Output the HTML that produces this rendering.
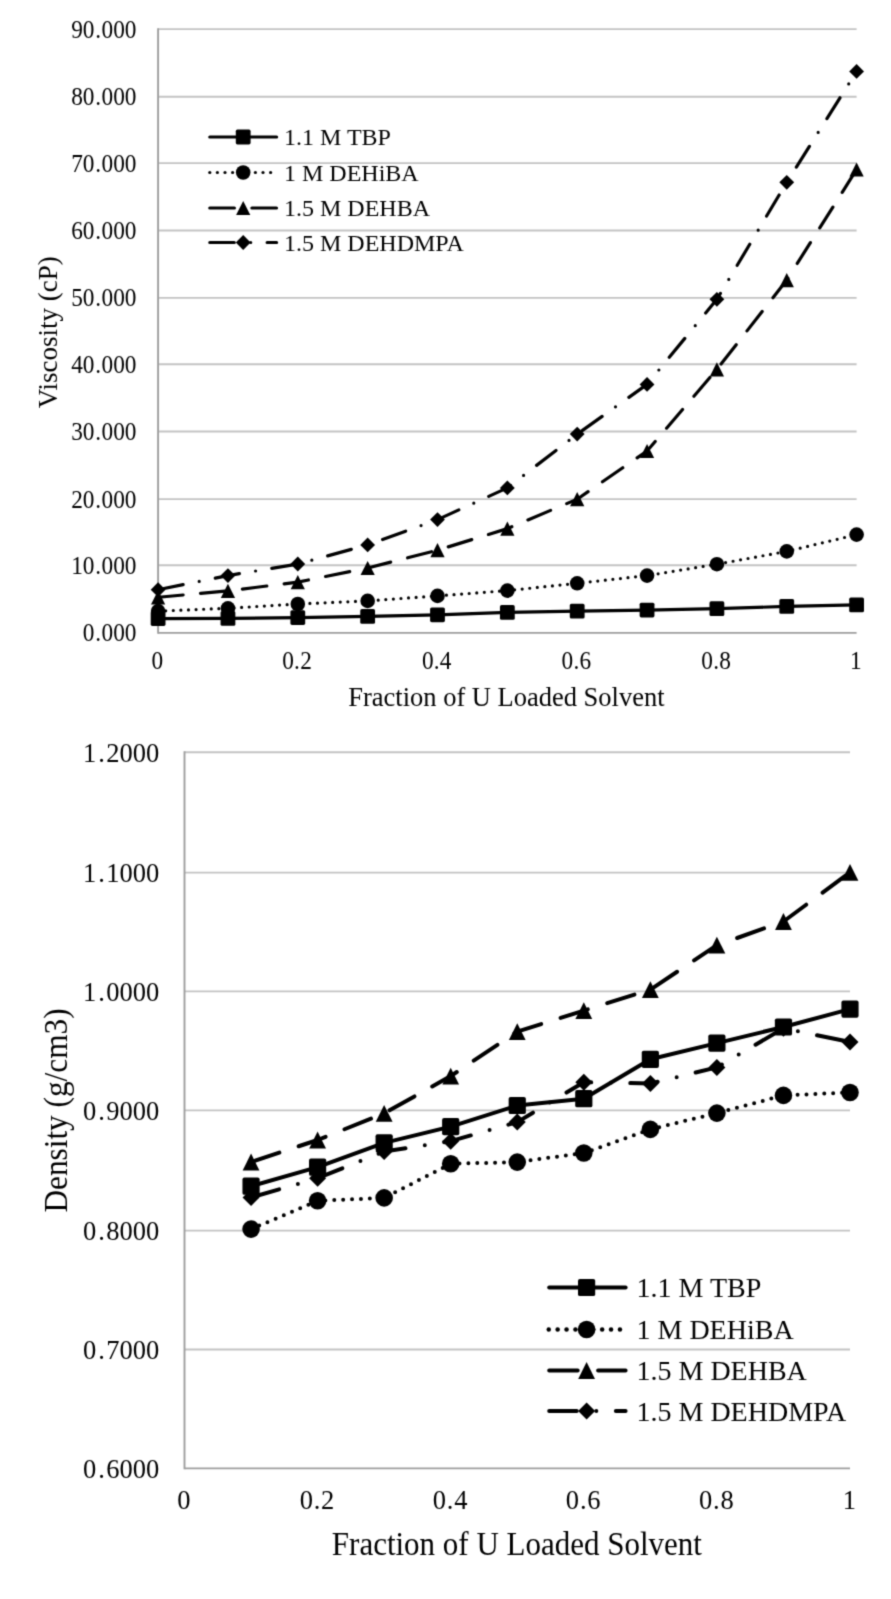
<!DOCTYPE html>
<html><head><meta charset="utf-8"><style>
html,body{margin:0;padding:0;background:#fff;}
svg{display:block;}
text{font-family:"Liberation Serif", serif;fill:#000;}
</style></head><body>
<svg width="891" height="1599" viewBox="0 0 891 1599">
<defs><filter id="bl" x="0" y="0" width="100%" height="100%" filterUnits="userSpaceOnUse" color-interpolation-filters="sRGB"><feConvolveMatrix order="3" kernelMatrix="0.02768 0.11101 0.02768 0.11101 0.44521 0.11101 0.02768 0.11101 0.02768" edgeMode="duplicate" preserveAlpha="true"/></filter></defs>
<rect width="891" height="1599" fill="#fff"/>
<g filter="url(#bl)">
<rect width="891" height="1599" fill="#fff"/>
<line x1="158.10" y1="565.20" x2="856.60" y2="565.20" stroke="#c3c3c3" stroke-width="1.9"/><line x1="158.10" y1="499.10" x2="856.60" y2="499.10" stroke="#c3c3c3" stroke-width="1.9"/><line x1="158.10" y1="431.50" x2="856.60" y2="431.50" stroke="#c3c3c3" stroke-width="1.9"/><line x1="158.10" y1="364.20" x2="856.60" y2="364.20" stroke="#c3c3c3" stroke-width="1.9"/><line x1="158.10" y1="297.90" x2="856.60" y2="297.90" stroke="#c3c3c3" stroke-width="1.9"/><line x1="158.10" y1="230.50" x2="856.60" y2="230.50" stroke="#c3c3c3" stroke-width="1.9"/><line x1="158.10" y1="163.10" x2="856.60" y2="163.10" stroke="#c3c3c3" stroke-width="1.9"/><line x1="158.10" y1="96.70" x2="856.60" y2="96.70" stroke="#c3c3c3" stroke-width="1.9"/><line x1="158.10" y1="29.10" x2="856.60" y2="29.10" stroke="#c3c3c3" stroke-width="1.9"/><line x1="158.10" y1="632.85" x2="856.60" y2="632.85" stroke="#9e9e9e" stroke-width="1.9"/><line x1="158.10" y1="28.20" x2="158.10" y2="633.75" stroke="#9e9e9e" stroke-width="1.9"/>
<text transform="translate(136.50 641.25) scale(1 1.05)" font-size="23.3" text-anchor="end">0<tspan dx="0.9">.</tspan><tspan dx="0.4">000</tspan></text><text transform="translate(136.50 573.60) scale(1 1.05)" font-size="23.3" text-anchor="end">10<tspan dx="0.9">.</tspan><tspan dx="0.4">000</tspan></text><text transform="translate(136.50 507.50) scale(1 1.05)" font-size="23.3" text-anchor="end">20<tspan dx="0.9">.</tspan><tspan dx="0.4">000</tspan></text><text transform="translate(136.50 439.90) scale(1 1.05)" font-size="23.3" text-anchor="end">30<tspan dx="0.9">.</tspan><tspan dx="0.4">000</tspan></text><text transform="translate(136.50 372.60) scale(1 1.05)" font-size="23.3" text-anchor="end">40<tspan dx="0.9">.</tspan><tspan dx="0.4">000</tspan></text><text transform="translate(136.50 306.30) scale(1 1.05)" font-size="23.3" text-anchor="end">50<tspan dx="0.9">.</tspan><tspan dx="0.4">000</tspan></text><text transform="translate(136.50 238.90) scale(1 1.05)" font-size="23.3" text-anchor="end">60<tspan dx="0.9">.</tspan><tspan dx="0.4">000</tspan></text><text transform="translate(136.50 171.50) scale(1 1.05)" font-size="23.3" text-anchor="end">70<tspan dx="0.9">.</tspan><tspan dx="0.4">000</tspan></text><text transform="translate(136.50 105.10) scale(1 1.05)" font-size="23.3" text-anchor="end">80<tspan dx="0.9">.</tspan><tspan dx="0.4">000</tspan></text><text transform="translate(136.50 37.50) scale(1 1.05)" font-size="23.3" text-anchor="end">90<tspan dx="0.9">.</tspan><tspan dx="0.4">000</tspan></text><text transform="translate(157.30 668.80) scale(1 1.05)" font-size="23.3" text-anchor="middle">0</text><text transform="translate(297.00 668.80) scale(1 1.05)" font-size="23.3" text-anchor="middle">0<tspan dx="0.25">.</tspan><tspan dx="0.25">2</tspan></text><text transform="translate(436.70 668.80) scale(1 1.05)" font-size="23.3" text-anchor="middle">0<tspan dx="0.25">.</tspan><tspan dx="0.25">4</tspan></text><text transform="translate(576.40 668.80) scale(1 1.05)" font-size="23.3" text-anchor="middle">0<tspan dx="0.25">.</tspan><tspan dx="0.25">6</tspan></text><text transform="translate(716.10 668.80) scale(1 1.05)" font-size="23.3" text-anchor="middle">0<tspan dx="0.25">.</tspan><tspan dx="0.25">8</tspan></text><text transform="translate(855.80 668.80) scale(1 1.05)" font-size="23.3" text-anchor="middle">1</text><text transform="translate(506.40 706.00) scale(1 1.04)" font-size="26.5" text-anchor="middle" >Fraction of U Loaded Solvent</text><text transform="translate(57.0 332.3) rotate(-90) scale(1 1.05)" x="0" y="0" font-size="27" text-anchor="middle">Viscosity (cP)</text>
<path d="M158.10 618.60 L227.95 618.40 L297.80 617.60 L367.65 616.40 L437.50 614.80 L507.35 612.40 L577.20 611.20 L647.05 610.05 L716.90 608.70 L786.75 606.40 L856.60 604.90" fill="none" stroke="#000" stroke-width="3.2" stroke-linecap="round" stroke-linejoin="round"  /><g fill="#000"><rect x="150.70" y="611.20" width="14.80" height="14.80" rx="1.63"/><rect x="220.55" y="611.00" width="14.80" height="14.80" rx="1.63"/><rect x="290.40" y="610.20" width="14.80" height="14.80" rx="1.63"/><rect x="360.25" y="609.00" width="14.80" height="14.80" rx="1.63"/><rect x="430.10" y="607.40" width="14.80" height="14.80" rx="1.63"/><rect x="499.95" y="605.00" width="14.80" height="14.80" rx="1.63"/><rect x="569.80" y="603.80" width="14.80" height="14.80" rx="1.63"/><rect x="639.65" y="602.65" width="14.80" height="14.80" rx="1.63"/><rect x="709.50" y="601.30" width="14.80" height="14.80" rx="1.63"/><rect x="779.35" y="599.00" width="14.80" height="14.80" rx="1.63"/><rect x="849.20" y="597.50" width="14.80" height="14.80" rx="1.63"/></g>
<path d="M158.10 611.10 L227.95 608.30 L297.80 604.00 L367.65 600.90 L437.50 595.90 L507.35 590.60 L577.20 583.30 L647.05 575.60 L716.90 564.20 L786.75 551.40 L856.60 534.60" fill="none" stroke="#000" stroke-width="3.2" stroke-linecap="round" stroke-linejoin="round" stroke-dasharray="0 7.6" stroke-dashoffset="0.00"/><g fill="#000"><circle cx="158.10" cy="611.10" r="7.30"/><circle cx="227.95" cy="608.30" r="7.30"/><circle cx="297.80" cy="604.00" r="7.30"/><circle cx="367.65" cy="600.90" r="7.30"/><circle cx="437.50" cy="595.90" r="7.30"/><circle cx="507.35" cy="590.60" r="7.30"/><circle cx="577.20" cy="583.30" r="7.30"/><circle cx="647.05" cy="575.60" r="7.30"/><circle cx="716.90" cy="564.20" r="7.30"/><circle cx="786.75" cy="551.40" r="7.30"/><circle cx="856.60" cy="534.60" r="7.30"/></g>
<path d="M158.10 597.30 L227.95 590.90 L297.80 582.10 L367.65 568.00 L437.50 550.20 L507.35 528.60 L577.20 499.20 L647.05 451.00 L716.90 369.30 L786.75 280.10 L856.60 169.50" fill="none" stroke="#000" stroke-width="3.2" stroke-linecap="round" stroke-linejoin="round" stroke-dasharray="24.6 17.49" stroke-dashoffset="41.58"/><g fill="#000"><path d="M158.10 590.20L165.20 604.40L151.00 604.40Z" stroke-linejoin="round"/><path d="M227.95 583.80L235.05 598.00L220.85 598.00Z" stroke-linejoin="round"/><path d="M297.80 575.00L304.90 589.20L290.70 589.20Z" stroke-linejoin="round"/><path d="M367.65 560.90L374.75 575.10L360.55 575.10Z" stroke-linejoin="round"/><path d="M437.50 543.10L444.60 557.30L430.40 557.30Z" stroke-linejoin="round"/><path d="M507.35 521.50L514.45 535.70L500.25 535.70Z" stroke-linejoin="round"/><path d="M577.20 492.10L584.30 506.30L570.10 506.30Z" stroke-linejoin="round"/><path d="M647.05 443.90L654.15 458.10L639.95 458.10Z" stroke-linejoin="round"/><path d="M716.90 362.20L724.00 376.40L709.80 376.40Z" stroke-linejoin="round"/><path d="M786.75 273.00L793.85 287.20L779.65 287.20Z" stroke-linejoin="round"/><path d="M856.60 162.40L863.70 176.60L849.50 176.60Z" stroke-linejoin="round"/></g>
<path d="M158.10 589.70 L227.95 575.60 L297.80 564.00 L367.65 544.90 L437.50 519.60 L507.35 487.90 L577.20 434.10 L647.05 384.40 L716.90 299.30 L786.75 182.30 L856.60 71.40" fill="none" stroke="#000" stroke-width="3.2" stroke-linecap="round" stroke-linejoin="round" stroke-dasharray="24.5 16.42 0 16.42" stroke-dashoffset="56.34"/><g fill="#000"><path d="M158.10 582.30L165.50 589.70L158.10 597.10L150.70 589.70Z"/><path d="M227.95 568.20L235.35 575.60L227.95 583.00L220.55 575.60Z"/><path d="M297.80 556.60L305.20 564.00L297.80 571.40L290.40 564.00Z"/><path d="M367.65 537.50L375.05 544.90L367.65 552.30L360.25 544.90Z"/><path d="M437.50 512.20L444.90 519.60L437.50 527.00L430.10 519.60Z"/><path d="M507.35 480.50L514.75 487.90L507.35 495.30L499.95 487.90Z"/><path d="M577.20 426.70L584.60 434.10L577.20 441.50L569.80 434.10Z"/><path d="M647.05 377.00L654.45 384.40L647.05 391.80L639.65 384.40Z"/><path d="M716.90 291.90L724.30 299.30L716.90 306.70L709.50 299.30Z"/><path d="M786.75 174.90L794.15 182.30L786.75 189.70L779.35 182.30Z"/><path d="M856.60 64.00L864.00 71.40L856.60 78.80L849.20 71.40Z"/></g>
<path d="M209.8 137.0 L276.6 137.0" fill="none" stroke="#000" stroke-width="3.2" stroke-linecap="round" />
<g fill="#000"><rect x="235.80" y="129.60" width="14.80" height="14.80" rx="1.63"/></g>
<text transform="translate(284.00 145.40) scale(1 1.0)" font-size="24" text-anchor="start" >1.1 M TBP</text>
<g fill="#000"><circle cx="209.80" cy="172.5" r="1.6"/><circle cx="217.40" cy="172.5" r="1.6"/><circle cx="225.00" cy="172.5" r="1.6"/><circle cx="232.60" cy="172.5" r="1.6"/><circle cx="240.20" cy="172.5" r="1.6"/><circle cx="247.80" cy="172.5" r="1.6"/><circle cx="255.40" cy="172.5" r="1.6"/><circle cx="263.00" cy="172.5" r="1.6"/><circle cx="270.60" cy="172.5" r="1.6"/></g>
<g fill="#000"><circle cx="243.20" cy="172.50" r="7.30"/></g>
<text transform="translate(284.00 180.90) scale(1 1.0)" font-size="24" text-anchor="start" >1 M DEHiBA</text>
<path d="M209.8 208.0 L276.6 208.0" fill="none" stroke="#000" stroke-width="3.2" stroke-linecap="round" stroke-dasharray="24.6 17.49"/>
<g fill="#000"><path d="M243.20 200.90L250.30 215.10L236.10 215.10Z" stroke-linejoin="round"/></g>
<text transform="translate(284.00 216.40) scale(1 1.0)" font-size="24" text-anchor="start" >1.5 M DEHBA</text>
<path d="M209.8 242.5 L276.6 242.5" fill="none" stroke="#000" stroke-width="3.2" stroke-linecap="round" stroke-dasharray="24.5 16.42 0 16.42"/>
<g fill="#000"><path d="M243.20 235.10L250.60 242.50L243.20 249.90L235.80 242.50Z"/></g>
<text transform="translate(284.00 250.90) scale(1 1.0)" font-size="24" text-anchor="start" >1.5 M DEHDMPA</text>
<line x1="184.50" y1="752.20" x2="850.00" y2="752.20" stroke="#c3c3c3" stroke-width="1.9"/><line x1="184.50" y1="872.60" x2="850.00" y2="872.60" stroke="#c3c3c3" stroke-width="1.9"/><line x1="184.50" y1="991.40" x2="850.00" y2="991.40" stroke="#c3c3c3" stroke-width="1.9"/><line x1="184.50" y1="1110.40" x2="850.00" y2="1110.40" stroke="#c3c3c3" stroke-width="1.9"/><line x1="184.50" y1="1230.60" x2="850.00" y2="1230.60" stroke="#c3c3c3" stroke-width="1.9"/><line x1="184.50" y1="1349.50" x2="850.00" y2="1349.50" stroke="#c3c3c3" stroke-width="1.9"/><line x1="184.50" y1="1468.40" x2="850.00" y2="1468.40" stroke="#9e9e9e" stroke-width="1.9"/><line x1="184.50" y1="751.30" x2="184.50" y2="1469.30" stroke="#9e9e9e" stroke-width="1.9"/>
<text transform="translate(159.20 761.60) scale(1 1.0)" font-size="26.5" text-anchor="end">1<tspan dx="2.0">.</tspan><tspan dx="1.4">2000</tspan></text><text transform="translate(159.20 882.00) scale(1 1.0)" font-size="26.5" text-anchor="end">1<tspan dx="2.0">.</tspan><tspan dx="1.4">1000</tspan></text><text transform="translate(159.20 1000.80) scale(1 1.0)" font-size="26.5" text-anchor="end">1<tspan dx="2.0">.</tspan><tspan dx="1.4">0000</tspan></text><text transform="translate(159.20 1119.80) scale(1 1.0)" font-size="26.5" text-anchor="end">0<tspan dx="2.0">.</tspan><tspan dx="1.4">9000</tspan></text><text transform="translate(159.20 1240.00) scale(1 1.0)" font-size="26.5" text-anchor="end">0<tspan dx="2.0">.</tspan><tspan dx="1.4">8000</tspan></text><text transform="translate(159.20 1358.90) scale(1 1.0)" font-size="26.5" text-anchor="end">0<tspan dx="2.0">.</tspan><tspan dx="1.4">7000</tspan></text><text transform="translate(159.20 1477.80) scale(1 1.0)" font-size="26.5" text-anchor="end">0<tspan dx="2.0">.</tspan><tspan dx="1.4">6000</tspan></text><text transform="translate(183.90 1509.10) scale(1 1.0)" font-size="26.5" text-anchor="middle">0</text><text transform="translate(317.00 1509.10) scale(1 1.0)" font-size="26.5" text-anchor="middle">0<tspan dx="0.8">.</tspan><tspan dx="0.8">2</tspan></text><text transform="translate(450.10 1509.10) scale(1 1.0)" font-size="26.5" text-anchor="middle">0<tspan dx="0.8">.</tspan><tspan dx="0.8">4</tspan></text><text transform="translate(583.20 1509.10) scale(1 1.0)" font-size="26.5" text-anchor="middle">0<tspan dx="0.8">.</tspan><tspan dx="0.8">6</tspan></text><text transform="translate(716.30 1509.10) scale(1 1.0)" font-size="26.5" text-anchor="middle">0<tspan dx="0.8">.</tspan><tspan dx="0.8">8</tspan></text><text transform="translate(849.40 1509.10) scale(1 1.0)" font-size="26.5" text-anchor="middle">1</text><text transform="translate(516.90 1554.50) scale(1 1.06)" font-size="31" text-anchor="middle" >Fraction of U Loaded Solvent</text><text transform="translate(66.8 1110.5) rotate(-90) scale(1 1.05)" x="0" y="0" font-size="31.3" text-anchor="middle">Density (g/cm3)</text>
<path d="M251.05 1186.20 L317.60 1167.20 L384.15 1142.90 L450.70 1126.60 L517.25 1105.50 L583.80 1098.70 L650.35 1059.30 L716.90 1043.10 L783.45 1027.00 L850.00 1009.10" fill="none" stroke="#000" stroke-width="4" stroke-linecap="round" stroke-linejoin="round"  /><g fill="#000"><rect x="242.45" y="1177.60" width="17.20" height="17.20" rx="1.89"/><rect x="309.00" y="1158.60" width="17.20" height="17.20" rx="1.89"/><rect x="375.55" y="1134.30" width="17.20" height="17.20" rx="1.89"/><rect x="442.10" y="1118.00" width="17.20" height="17.20" rx="1.89"/><rect x="508.65" y="1096.90" width="17.20" height="17.20" rx="1.89"/><rect x="575.20" y="1090.10" width="17.20" height="17.20" rx="1.89"/><rect x="641.75" y="1050.70" width="17.20" height="17.20" rx="1.89"/><rect x="708.30" y="1034.50" width="17.20" height="17.20" rx="1.89"/><rect x="774.85" y="1018.40" width="17.20" height="17.20" rx="1.89"/><rect x="841.40" y="1000.50" width="17.20" height="17.20" rx="1.89"/></g>
<path d="M251.05 1229.10 L317.60 1200.80 L384.15 1197.90 L450.70 1163.80 L517.25 1162.10 L583.80 1153.00 L650.35 1129.40 L716.90 1113.10 L783.45 1095.40 L850.00 1092.50" fill="none" stroke="#000" stroke-width="4" stroke-linecap="round" stroke-linejoin="round" stroke-dasharray="0 8.9" stroke-dashoffset="0.00"/><g fill="#000"><circle cx="251.05" cy="1229.10" r="8.80"/><circle cx="317.60" cy="1200.80" r="8.80"/><circle cx="384.15" cy="1197.90" r="8.80"/><circle cx="450.70" cy="1163.80" r="8.80"/><circle cx="517.25" cy="1162.10" r="8.80"/><circle cx="583.80" cy="1153.00" r="8.80"/><circle cx="650.35" cy="1129.40" r="8.80"/><circle cx="716.90" cy="1113.10" r="8.80"/><circle cx="783.45" cy="1095.40" r="8.80"/><circle cx="850.00" cy="1092.50" r="8.80"/></g>
<path d="M251.05 1162.00 L317.60 1140.00 L384.15 1113.40 L450.70 1076.10 L517.25 1031.60 L583.80 1010.60 L650.35 989.60 L716.90 945.20 L783.45 921.50 L850.00 872.40" fill="none" stroke="#000" stroke-width="4" stroke-linecap="round" stroke-linejoin="round" stroke-dasharray="28.5 20.4" stroke-dashoffset="47.64"/><g fill="#000"><path d="M251.05 1153.60L259.45 1170.40L242.65 1170.40Z" stroke-linejoin="round"/><path d="M317.60 1131.60L326.00 1148.40L309.20 1148.40Z" stroke-linejoin="round"/><path d="M384.15 1105.00L392.55 1121.80L375.75 1121.80Z" stroke-linejoin="round"/><path d="M450.70 1067.70L459.10 1084.50L442.30 1084.50Z" stroke-linejoin="round"/><path d="M517.25 1023.20L525.65 1040.00L508.85 1040.00Z" stroke-linejoin="round"/><path d="M583.80 1002.20L592.20 1019.00L575.40 1019.00Z" stroke-linejoin="round"/><path d="M650.35 981.20L658.75 998.00L641.95 998.00Z" stroke-linejoin="round"/><path d="M716.90 936.80L725.30 953.60L708.50 953.60Z" stroke-linejoin="round"/><path d="M783.45 913.10L791.85 929.90L775.05 929.90Z" stroke-linejoin="round"/><path d="M850.00 864.00L858.40 880.80L841.60 880.80Z" stroke-linejoin="round"/></g>
<path d="M251.05 1197.50 L317.60 1178.20 L384.15 1151.50 L450.70 1141.20 L517.25 1122.10 L583.80 1082.20 L650.35 1083.50 L716.90 1067.40 L783.45 1028.30 L850.00 1042.00" fill="none" stroke="#000" stroke-width="4" stroke-linecap="round" stroke-linejoin="round" stroke-dasharray="27.57 19.55 0 19.55" stroke-dashoffset="65.01"/><g fill="#000"><path d="M251.05 1189.00L259.55 1197.50L251.05 1206.00L242.55 1197.50Z"/><path d="M317.60 1169.70L326.10 1178.20L317.60 1186.70L309.10 1178.20Z"/><path d="M384.15 1143.00L392.65 1151.50L384.15 1160.00L375.65 1151.50Z"/><path d="M450.70 1132.70L459.20 1141.20L450.70 1149.70L442.20 1141.20Z"/><path d="M517.25 1113.60L525.75 1122.10L517.25 1130.60L508.75 1122.10Z"/><path d="M583.80 1073.70L592.30 1082.20L583.80 1090.70L575.30 1082.20Z"/><path d="M650.35 1075.00L658.85 1083.50L650.35 1092.00L641.85 1083.50Z"/><path d="M716.90 1058.90L725.40 1067.40L716.90 1075.90L708.40 1067.40Z"/><path d="M783.45 1019.80L791.95 1028.30L783.45 1036.80L774.95 1028.30Z"/><path d="M850.00 1033.50L858.50 1042.00L850.00 1050.50L841.50 1042.00Z"/></g>
<path d="M549.2 1287.5 L625.6 1287.5" fill="none" stroke="#000" stroke-width="4" stroke-linecap="round" />
<g fill="#000"><rect x="578.00" y="1278.90" width="17.20" height="17.20" rx="1.89"/></g>
<text transform="translate(636.50 1297.40) scale(1 1.0)" font-size="28" text-anchor="start" >1.1 M TBP</text>
<g fill="#000"><circle cx="548.75" cy="1329.5" r="2.25"/><circle cx="557.65" cy="1329.5" r="2.25"/><circle cx="566.55" cy="1329.5" r="2.25"/><circle cx="575.45" cy="1329.5" r="2.25"/><circle cx="584.35" cy="1329.5" r="2.25"/><circle cx="593.25" cy="1329.5" r="2.25"/><circle cx="602.15" cy="1329.5" r="2.25"/><circle cx="611.05" cy="1329.5" r="2.25"/><circle cx="619.95" cy="1329.5" r="2.25"/></g>
<g fill="#000"><circle cx="586.60" cy="1329.50" r="8.80"/></g>
<text transform="translate(636.50 1339.40) scale(1 1.0)" font-size="28" text-anchor="start" >1 M DEHiBA</text>
<path d="M549.2 1370.5 L625.6 1370.5" fill="none" stroke="#000" stroke-width="4" stroke-linecap="round" stroke-dasharray="28.5 20.4"/>
<g fill="#000"><path d="M586.60 1362.10L595.00 1378.90L578.20 1378.90Z" stroke-linejoin="round"/></g>
<text transform="translate(636.50 1380.40) scale(1 1.0)" font-size="28" text-anchor="start" >1.5 M DEHBA</text>
<path d="M549.2 1411 L625.6 1411" fill="none" stroke="#000" stroke-width="4" stroke-linecap="round" stroke-dasharray="27.57 19.55 0 19.55"/>
<g fill="#000"><path d="M586.60 1402.50L595.10 1411.00L586.60 1419.50L578.10 1411.00Z"/></g>
<text transform="translate(636.50 1420.90) scale(1 1.0)" font-size="28" text-anchor="start" >1.5 M DEHDMPA</text>
</g></svg></body></html>
